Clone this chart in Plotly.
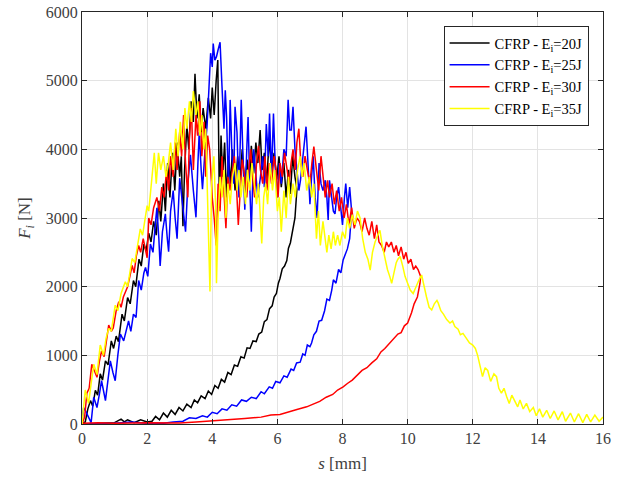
import plotly.graph_objects as go

# ---- data (s [mm], F [N]) ----
s_20 = [0, 0.1, 0.18, 0.26, 0.33, 0.41, 0.48, 0.56, 0.63, 0.72, 0.8, 0.9, 0.97, 1.05, 1.12, 1.23, 1.3, 1.4, 1.48, 1.58, 1.65, 1.75, 1.82, 1.9, 1.97, 2.05, 2.12, 2.2, 2.28, 2.36, 2.42, 2.5, 2.56, 2.63, 2.7, 2.78, 2.85, 2.92, 3.0, 3.05, 3.1, 3.15, 3.22, 3.28, 3.35, 3.42, 3.47, 3.53, 3.6, 3.66, 3.72, 3.8, 3.88, 3.95, 4.0, 4.06, 4.12, 4.17, 4.22, 4.27, 4.32, 4.38, 4.44, 4.5, 4.56, 4.62, 4.7, 4.78, 4.85, 4.92, 5.0, 5.07, 5.14, 5.2, 5.27, 5.34, 5.4, 5.47, 5.53, 5.6, 5.67, 5.75, 5.82, 5.9, 5.98, 6.05, 6.12, 6.2, 6.27, 6.34, 6.4, 6.47, 6.54, 6.6,
        6.54, 6.46, 6.4, 6.34, 6.29, 6.22, 6.15, 6.08, 6.03, 5.97, 5.9, 5.84, 5.76, 5.68, 5.6, 5.52, 5.43, 5.35, 5.25, 5.16, 5.07, 4.98, 4.88, 4.78, 4.68, 4.58, 4.48, 4.38, 4.28, 4.18, 4.08, 3.98, 3.88, 3.78, 3.66, 3.55, 3.45, 3.35, 3.22, 3.1, 2.98, 2.86, 2.74, 2.62, 2.5, 2.38, 2.26, 2.15, 2.0, 1.8, 1.6, 1.4, 1.3, 1.2, 1.0, 0.6, 0.3]
F_20 = [0, 30, 220, 340, 260, 490, 420, 730, 640, 920, 860, 1210, 1100, 1280, 1200, 1600, 1500, 1840, 1750, 2090, 2000, 2400, 2300, 2620, 2520, 2780, 2650, 2950, 2750, 3250, 2950, 3500, 3100, 3800, 3300, 3950, 3400, 4100, 3600, 3900, 2880, 3700, 4350, 4000, 4700, 4400, 5100, 4450, 4800, 4250, 4600, 4300, 4750, 4450, 4900, 4500, 5000, 5300, 3150, 4200, 3600, 4100, 3300, 3900, 3500, 4000, 3400, 3900, 3550, 4000, 3450, 3850, 3500, 4050, 3650, 4100, 3800, 4280, 3700, 3950, 3500, 4170, 3700, 3950, 3560, 3900, 3450, 3800, 3300, 3700, 3350, 3900, 3600, 3420,
        3000, 2820, 2640, 2560, 2380, 2300, 2260, 2120, 2050, 1900, 1850, 1720, 1680, 1520, 1490, 1340, 1310, 1200, 1210, 1100, 1110, 960, 980, 840, 860, 720, 750, 610, 650, 520, 560, 430, 480, 370, 410, 310, 350, 240, 290, 190, 240, 140, 200, 100, 160, 60, 110, 40, 30, 60, 20, 60, 30, 70, 20, 10, 0]

s_25 = [0, 0.05, 0.12, 0.2, 0.28, 0.36, 0.46, 0.54, 0.6, 0.72, 0.8, 0.87, 0.95, 1.02, 1.1, 1.18, 1.28, 1.35, 1.43, 1.5, 1.58, 1.66, 1.74, 1.82, 1.9, 1.95, 2.02, 2.1, 2.18, 2.25, 2.3, 2.36, 2.4, 2.47, 2.56, 2.62, 2.66, 2.72, 2.8, 2.86, 2.92, 3.0, 3.08, 3.18, 3.25, 3.33, 3.42, 3.5, 3.56, 3.6, 3.66, 3.7, 3.78, 3.84, 3.9, 3.95, 4.0, 4.03, 4.08, 4.13, 4.18, 4.24, 4.3, 4.36, 4.4, 4.44, 4.5, 4.55, 4.6, 4.66, 4.7, 4.76, 4.82, 4.89, 4.95, 5.0, 5.06, 5.1, 5.15, 5.2, 5.27, 5.33, 5.4, 5.48, 5.55, 5.6, 5.66, 5.72, 5.76, 5.82, 5.88, 5.94, 6.0, 6.06, 6.12, 6.2, 6.27, 6.33, 6.38, 6.43, 6.48, 6.54, 6.6, 6.66, 6.71, 6.78, 6.84, 6.88, 6.94, 7.0, 7.05, 7.1, 7.16, 7.22, 7.28, 7.34, 7.4, 7.47, 7.52, 7.56, 7.6, 7.66, 7.72, 7.77, 7.82, 7.88, 7.94, 8.0, 8.06, 8.1, 8.16, 8.22, 8.28,
        8.22, 8.15, 8.08, 8.02, 7.95, 7.88, 7.8, 7.72, 7.67, 7.6, 7.52, 7.45, 7.36, 7.28, 7.2, 7.12, 7.05, 7.0, 6.92, 6.85, 6.78, 6.7, 6.59, 6.5, 6.42, 6.3, 6.2, 6.08, 5.95, 5.85, 5.75, 5.6, 5.5, 5.35, 5.2, 5.05, 4.9, 4.75, 4.6, 4.45, 4.3, 4.15, 4.0, 3.85, 3.7, 3.5, 3.3, 3.1, 2.8, 2.5, 2.0, 1.5, 1.0, 0.5, 0]
F_25 = [0, 240, 180, 100, 20, 390, 240, 450, 630, 340, 700, 920, 750, 630, 1000, 1310, 1210, 1350, 1500, 1350, 1600, 1550, 2090, 1950, 2200, 2280, 2150, 2620, 2500, 2900, 3150, 2700, 2300, 2800, 3060, 2700, 2510, 3100, 3400, 3000, 2700, 3580, 3200, 2800, 3500, 3920, 3400, 3010, 3800, 4250, 3700, 3420, 4000, 4340, 4900, 5400, 5200, 5540, 5300, 5350, 5450, 5560, 4910, 4300, 4860, 4470, 3400, 4720, 4000, 3500, 4620, 4250, 3300, 4720, 3800, 3120, 4000, 4470, 3500, 2800, 4000, 3700, 3300, 3600, 3900, 3450, 4370, 3900, 4520, 3600, 4520, 3700, 3300, 3800, 3500, 4000, 3900, 4720, 4280, 4280, 4620, 4000, 3700, 3400, 3550, 3900, 4100, 4330, 3800, 3200, 3600, 3900, 3300, 3000, 3800, 3500, 3400, 3550, 3300, 2970, 3550, 3300, 3100, 3060, 3300, 3450, 3200, 2900, 3300, 3500, 3150, 3450, 3100,
        2700, 2550, 2450, 2390, 2200, 2250, 2050, 2100, 1950, 1800, 1820, 1650, 1510, 1500, 1350, 1300, 1180, 1125, 1150, 1000, 1020, 900, 890, 780, 800, 680, 700, 600, 620, 520, 540, 440, 470, 370, 390, 330, 350, 260, 280, 200, 220, 150, 170, 100, 120, 80, 90, 40, 30, 10, 10, 30, 10, 0, 0]

s_30 = [0, 0.08, 0.15, 0.22, 0.3, 0.38, 0.46, 0.53, 0.6, 0.68, 0.75, 0.82, 0.9, 0.96, 1.05, 1.13, 1.2, 1.27, 1.33, 1.4, 1.47, 1.54, 1.6, 1.67, 1.74, 1.8, 1.88, 1.95, 2.0, 2.05, 2.12, 2.2, 2.3, 2.38, 2.45, 2.52, 2.6, 2.66, 2.72, 2.8, 2.86, 2.92, 3.0, 3.06, 3.12, 3.18, 3.25, 3.3, 3.36, 3.42, 3.5, 3.55, 3.62, 3.68, 3.75, 3.8, 3.86, 3.92, 4.0, 4.06, 4.12, 4.18, 4.24, 4.3, 4.36, 4.42, 4.48, 4.55, 4.62, 4.68, 4.74, 4.8, 4.86, 4.92, 5.0, 5.06, 5.12, 5.18, 5.24, 5.3, 5.36, 5.42, 5.48, 5.55, 5.62, 5.68, 5.75, 5.82, 5.9, 5.96, 6.02, 6.08, 6.15, 6.22, 6.3, 6.36, 6.42, 6.48, 6.55, 6.6, 6.66, 6.72, 6.78, 6.85, 6.92, 7.0, 7.06, 7.12, 7.2, 7.27, 7.34, 7.4, 7.47, 7.54, 7.6, 7.68, 7.75, 7.82, 7.9, 7.97, 8.05, 8.12, 8.2, 8.28, 8.36, 8.44, 8.52, 8.6, 8.68, 8.75, 8.82, 8.9, 8.98, 9.05, 9.12, 9.2, 9.28, 9.35, 9.42, 9.5, 9.58, 9.65, 9.72, 9.8, 9.88, 9.95, 10.02, 10.1, 10.18, 10.25, 10.32, 10.4,
        10.38, 10.3, 10.2, 10.12, 10.07, 10.0, 9.9, 9.8, 9.7, 9.55, 9.45, 9.3, 9.18, 9.05, 8.9, 8.75, 8.6, 8.44, 8.3, 8.15, 8.02, 7.85, 7.7, 7.5, 7.3, 7.1, 6.9, 6.6, 6.3, 6.08, 5.8, 5.5, 5.0, 4.5, 4.0, 3.5, 3.0, 2.0, 1.0, 0.5, 0]
F_30 = [0, 100, 450, 520, 870, 760, 680, 900, 1060, 980, 1200, 1440, 1350, 1400, 1650, 1780, 1700, 1850, 1920, 2000, 2150, 2310, 2200, 2450, 2600, 2500, 2700, 2550, 2420, 3000, 2900, 3150, 3300, 3100, 3450, 3300, 3700, 3400, 3900, 3600, 4100, 3700, 4250, 3900, 4500, 3800, 3300, 4200, 4600, 3700, 4500, 4200, 4700, 3900, 4400, 3600, 4200, 4000, 3300, 3000, 2600, 3500, 3100, 3900, 3300, 2850, 3600, 3400, 3700, 3900, 3500, 2900, 3400, 3850, 3600, 3300, 3700, 4000, 3600, 3300, 3800, 4050, 3700, 3500, 3900, 3400, 3800, 3500, 3900, 3700, 3300, 3800, 3600, 3950, 3700, 3500, 3800, 4000, 3700, 4100, 4300, 3800, 3600, 3900, 3700, 3500, 3800, 4040, 3700, 3400, 3900, 3600, 3300, 3550, 3300, 3500, 3200, 3400, 3100, 3300, 3000, 3200, 2900, 3150, 2850, 3000, 2950, 2800, 3000, 2850, 2750, 2950, 2700, 2900, 2650, 2600, 2500, 2650, 2580, 2650, 2500, 2600, 2450, 2580, 2400, 2500, 2340, 2400, 2250, 2300, 2250, 2150, 2050,
        1850, 1750, 1620, 1550, 1470, 1430, 1330, 1310, 1230, 1180, 1100, 1050, 950, 890, 820, 780, 700, 640, 590, 540, 495, 430, 390, 330, 290, 250, 210, 170, 140, 130, 100, 80, 60, 40, 30, 15, 20, 10, 20, 10, 0]

s_35 = [0, 0.05, 0.1, 0.2, 0.28, 0.36, 0.46, 0.56, 0.66, 0.74, 0.82, 0.9, 1.02, 1.1, 1.2, 1.33, 1.4, 1.54, 1.62, 1.7, 1.79, 1.86, 1.93, 2.0, 2.05, 2.1, 2.16, 2.22, 2.28, 2.35, 2.42, 2.5, 2.58, 2.65, 2.72, 2.8, 2.88, 2.95, 3.02, 3.1, 3.16, 3.22, 3.3, 3.36, 3.42, 3.5, 3.56, 3.62, 3.68, 3.74, 3.8, 3.86, 3.93, 3.98, 4.05, 4.1, 4.13, 4.18, 4.24, 4.3, 4.36, 4.42, 4.48, 4.55, 4.62, 4.7, 4.76, 4.82, 4.88, 4.95, 5.02, 5.08, 5.15, 5.22, 5.3, 5.36, 5.42, 5.48, 5.52, 5.58, 5.64, 5.7, 5.78, 5.85, 5.92, 6.0, 6.06, 6.12, 6.2, 6.27, 6.34, 6.4, 6.48, 6.55, 6.62, 6.7, 6.76, 6.82, 6.9, 6.98, 7.05, 7.12, 7.2, 7.26, 7.32, 7.4, 7.46, 7.52, 7.58, 7.65, 7.72, 7.78, 7.85, 7.92, 8.0, 8.08, 8.15, 8.22, 8.3, 8.38, 8.46, 8.54, 8.62, 8.7, 8.78, 8.85, 8.92, 9.0, 9.08, 9.15, 9.22, 9.3, 9.38, 9.45, 9.51, 9.58, 9.65, 9.7, 9.77, 9.85, 9.92, 10.0, 10.08, 10.17, 10.25, 10.35, 10.43, 10.5, 10.58, 10.66, 10.74, 10.82, 10.9, 10.94, 11.02, 11.1, 11.2, 11.3, 11.38, 11.45, 11.55, 11.62, 11.7, 11.8, 11.9, 12.0, 12.08, 12.15, 12.22, 12.3, 12.38, 12.46, 12.55, 12.65, 12.73, 12.8, 12.88, 12.96, 13.04, 13.12, 13.2, 13.3, 13.38, 13.45, 13.55, 13.65, 13.75, 13.86, 13.95, 14.05, 14.15, 14.27, 14.38, 14.5, 14.62, 14.75, 14.85, 15.0, 15.12, 15.25, 15.38, 15.5, 15.62, 15.75, 15.88, 16.0]
F_35 = [0, 250, 495, 300, 600, 870, 720, 1150, 1000, 1250, 1390, 1350, 1730, 1650, 1900, 2070, 2000, 2410, 2350, 2600, 2840, 2750, 3000, 3180, 3100, 3330, 3700, 3950, 3500, 3950, 3700, 3900, 3600, 3800, 4100, 3700, 4300, 3900, 4400, 4000, 4600, 4300, 4700, 4400, 4850, 4500, 4700, 4200, 4500, 4000, 4300, 3300, 1930, 3500, 3900, 3200, 2050, 3000, 3600, 3300, 3700, 3000, 3500, 3200, 3600, 3800, 3400, 3700, 3300, 3600, 3200, 3700, 3400, 3800, 3500, 3200, 3500, 3000, 2630, 3300, 3500, 3200, 3800, 3400, 3700, 3100, 3300, 2800, 3400, 3000, 3600, 3200, 3500, 3300, 3700, 3900, 3600, 3800, 3400, 3600, 3300, 3500, 2700, 3100, 2600, 2950, 2700, 2500, 2750, 2550, 2800, 2600, 2750, 2600, 2800, 2700, 3000, 2850, 3050, 2900, 3100, 3000, 2700, 2500, 2400, 2240, 2500, 2650, 2750, 2820, 2600, 2400, 2250, 2150, 2050, 2200, 2350, 2400, 2440, 2300, 2150, 2050, 1950, 1900, 2000, 2100, 2170, 2000, 1850, 1700, 1660, 1750, 1800, 1760, 1650, 1600, 1520, 1470, 1500, 1420, 1380, 1300, 1320, 1250, 1180, 1150, 1100, 1000, 850, 690, 820, 780, 620, 730, 690, 520, 450, 520, 400, 300, 420, 320, 250, 350, 220, 300, 180, 240, 120, 220, 100, 200, 80, 190, 60, 180, 40, 160, 30, 150, 20, 140, 30, 130, 40, 100]

series_names = ["CFRP - E<sub>i</sub>=20J", "CFRP - E<sub>i</sub>=25J",
                "CFRP - E<sub>i</sub>=30J", "CFRP - E<sub>i</sub>=35J"]
series_colors = ["#000000", "#0000ff", "#ff0000", "#ffff00"]
x_ticks = [0, 2, 4, 6, 8, 10, 12, 14, 16]
y_ticks = [0, 1000, 2000, 3000, 4000, 5000, 6000]

FONT = "Liberation Serif, Times New Roman, serif"

fig = go.Figure()
for xs, ys, name, col in zip([s_20, s_25, s_30, s_35], [F_20, F_25, F_30, F_35],
                             series_names, series_colors):
    fig.add_trace(go.Scatter(x=xs, y=ys, mode="lines", name=name,
                             line=dict(color=col, width=1.5)))

axis_common = dict(showline=True, linecolor="#262626", linewidth=1, mirror="ticks",
                   ticks="inside", ticklen=5, tickcolor="#262626", automargin=False,
                   ticklabeloverflow="allow",
                   showgrid=True, gridcolor="#e3e3e3", gridwidth=1, zeroline=False,
                   tickfont=dict(family=FONT, size=16, color="#404040"))

fig.update_layout(
    width=628, height=481,
    margin=dict(l=82, r=25, t=12, b=57),
    paper_bgcolor="white", plot_bgcolor="white",
    font=dict(family=FONT, color="#262626"),
    xaxis=dict(range=[0, 16], tickvals=x_ticks,
               title=dict(text="<i>s</i> [mm]", font=dict(family=FONT, size=17, color="#404040"),
                          standoff=10),
               **axis_common),
    yaxis=dict(range=[0, 6000], tickvals=y_ticks,
               title=dict(text="<i>F</i><sub><i>i</i></sub> [N]",
                          font=dict(family=FONT, size=17, color="#404040"), standoff=10),
               **axis_common),
    legend=dict(x=0.694, y=0.966, xanchor="left", yanchor="top",
                bgcolor="white", bordercolor="#262626", borderwidth=1,
                font=dict(family=FONT, size=14.5, color="#000000"),
                tracegroupgap=0, itemwidth=40),
    showlegend=True,
)

# remove the default 8px page margin so the figure sits at the window origin
fig.write_html("out.html", config={"displayModeBar": False},
               post_script="document.body.style.margin='0px';document.body.style.padding='0px';")
